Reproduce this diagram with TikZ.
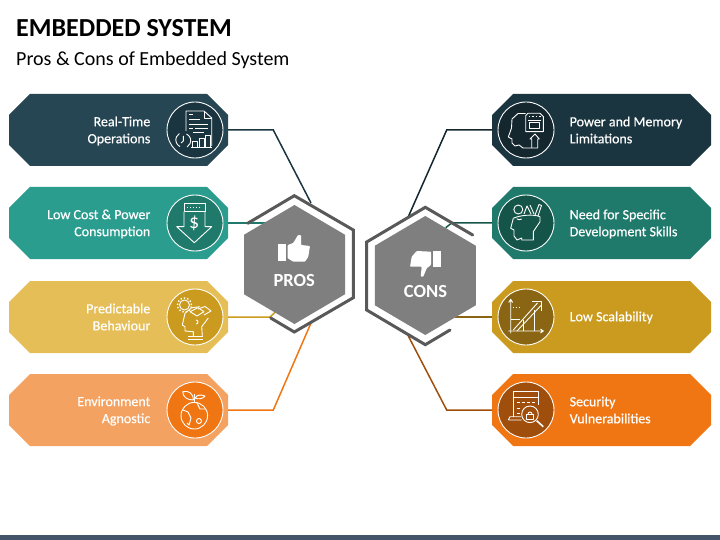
\documentclass[tikz,border=0pt]{standalone}
\usepackage{fontspec}
\setmainfont{Carlito}
\usetikzlibrary{shapes.geometric}
\definecolor{c1}{HTML}{264653}\definecolor{c1d}{HTML}{1B3540}
\definecolor{c2}{HTML}{2A9D8F}\definecolor{c2d}{HTML}{1F7A6B}
\definecolor{c3}{HTML}{E6BE57}\definecolor{c3d}{HTML}{CB9B1F}
\definecolor{c4}{HTML}{F4A261}\definecolor{c4d}{HTML}{F07613}
\definecolor{d1}{HTML}{1B3540}\definecolor{d1d}{HTML}{14262E}
\definecolor{d2}{HTML}{1F7A6B}\definecolor{d2d}{HTML}{155448}
\definecolor{d3}{HTML}{CB9B1F}\definecolor{d3d}{HTML}{8A6614}
\definecolor{d4}{HTML}{F07613}\definecolor{d4d}{HTML}{A04E0B}
\definecolor{hexfill}{HTML}{7F7F7F}\definecolor{hexline}{HTML}{595959}
\definecolor{barc}{HTML}{44546A}
\tikzset{
 x=1pt,y=-1pt,
 cardbox/.style={rectangle,minimum width=219pt,minimum height=72pt,inner sep=0pt,outer sep=0pt,draw=none},
 cardtxt/.style={text=white,inner sep=0pt,font=\fontsize{14}{17}\selectfont\addfontfeature{FakeBold=0.5}},
 iconc/.style={circle,minimum size=56pt,inner sep=0pt,draw=white,line width=0.9pt},
 link/.style={line width=1.5pt},
 hexa/.style={regular polygon,regular polygon sides=6,shape border rotate=30,minimum size=119pt,inner sep=0pt,fill=hexfill,draw=none,xscale=0.98,transform shape},
 ring/.style={draw=hexline,line width=3pt,line cap=round,line join=miter,fill=none},
 ico/.style={draw=white,line width=0.9pt,fill=none,line join=round},
}
\newcommand{\cardshape}[3]{%
 \node[cardbox] (#1) at #2 {};
 \fill[#3] ([xshift=21pt]#1.north west) -- ([xshift=-21pt]#1.north east) -- ([yshift=-21pt]#1.north east) -- ([yshift=21pt]#1.south east) -- ([xshift=-21pt]#1.south east) -- ([xshift=21pt]#1.south west) -- ([yshift=21pt]#1.south west) -- ([yshift=-21pt]#1.north west) -- cycle;}
\begin{document}
\begin{tikzpicture}
\useasboundingbox (0,0) rectangle (720,540);
\fill[barc] (0,535) rectangle (720,540);
\node[anchor=west,font=\fontsize{26}{30}\selectfont\bfseries,text=black,inner sep=0pt] (title) at (16,28.5) {EMBEDDED SYSTEM};
\node[anchor=west,font=\fontsize{20}{22}\selectfont,text=black,inner sep=0pt] (sub) at (16,60) {Pros \& Cons of Embedded System};

\cardshape{p1}{(118.5,130)}{c1}
\cardshape{p2}{(118.5,223)}{c2}
\cardshape{p3}{(118.5,317)}{c3}
\cardshape{p4}{(118.5,410)}{c4}
\cardshape{n1}{(601.5,130)}{d1}
\cardshape{n2}{(601.5,223)}{d2}
\cardshape{n3}{(601.5,317)}{d3}
\cardshape{n4}{(601.5,410)}{d4}

\coordinate (pe1) at (311,203);
\coordinate (pb1) at (273.3,130);
\coordinate (pe2) at (266,223);
\coordinate (pb3) at (270,317);
\coordinate (pe3) at (275.7,311.7);
\coordinate (pb4) at (273.3,410);
\coordinate (pe4) at (311,323);
\coordinate (nb1) at (446.7,130);
\coordinate (ne1) at (408.3,216.7);
\coordinate (nb2) at (451.7,223);
\coordinate (ne2) at (445.7,227.7);
\coordinate (ne3) at (455,317);
\coordinate (nb4) at (446.7,410);
\coordinate (ne4) at (408.3,336);
\draw[link,c1d] (p1.east) -- (pb1) -- (pe1);
\draw[link,c2d] (p2.east) -- (pe2);
\draw[link,c3d] (p3.east) -- (pb3) -- (pe3);
\draw[link,c4d] (p4.east) -- (pb4) -- (pe4);
\draw[link,d1d] (n1.west) -- (nb1) -- (ne1);
\draw[link,d2d] (n2.west) -- (nb2) -- (ne2);
\draw[link,d3d] (n3.west) -- (ne3);
\draw[link,d4d] (n4.west) -- (nb4) -- (ne4);

\node[hexa] (pros) at (294.5,264.5) {};
\node[hexa] (cons) at (425.3,275.5) {};
\draw[ring] (247.7,223.3) -- (294.3,195.7) -- (353.3,230) -- (353.3,297.7) -- (294.3,332) -- (270.7,318);
\draw[ring] (472.7,235) -- (425.3,207.3) -- (366.7,242) -- (366.7,310) -- (425.3,344.7) -- (450,330);
\node[text=white,font=\fontsize{18.5}{20}\selectfont\bfseries,inner sep=0pt] (prost) at (294.3,280) {PROS};
\node[text=white,font=\fontsize{18.5}{20}\selectfont\bfseries,inner sep=0pt] (const) at (425.5,291) {CONS};
% thumbs
\fill[white] (277.7,244) rectangle (286,260.7);
\fill[white,rounded corners=0.8pt] (287.7,245) -- (293.3,243) -- (298,235) -- (301,235) -- (301,245) -- (310,246) -- (308.3,256.7) -- (305,261.7) -- (293.3,261.7) -- (287.7,258.3) -- cycle;
\fill[white] (433.3,251) rectangle (441,267.3);
\fill[white,rounded corners=0.8pt] (431,251.7) -- (416.7,251) -- (411.7,256.7) -- (410,266.7) -- (421.7,266.7) -- (420.7,276.7) -- (423.3,276.7) -- (426.7,268.3) -- (431,265) -- cycle;

\node[iconc,fill=c1d] (ip1) at (195,130) {};
\node[iconc,fill=c2d] (ip2) at (195,223) {};
\node[iconc,fill=c3d] (ip3) at (195,317) {};
\node[iconc,fill=c4d] (ip4) at (195,410) {};
\node[iconc,fill=d1d] (in1) at (526,130) {};
\node[iconc,fill=d2d] (in2) at (526,223) {};
\node[iconc,fill=d3d] (in3) at (526,317) {};
\node[iconc,fill=d4d] (in4) at (526,410) {};

\node[cardtxt,align=right,anchor=east] (tp1) at (150.5,131) {Real-Time\\Operations};
\node[cardtxt,align=right,anchor=east] (tp2) at (150.5,224) {Low Cost \& Power\\Consumption};
\node[cardtxt,align=right,anchor=east] (tp3) at (150.5,317) {Predictable\\Behaviour};
\node[cardtxt,align=right,anchor=east] (tp4) at (150.5,411) {Environment\\Agnostic};
\node[cardtxt,align=left,anchor=west] (tn1) at (569.5,130) {Power and Memory\\Limitations};
\node[cardtxt,align=left,anchor=west] (tn2) at (569.5,224) {Need for Specific\\Development Skills};
\node[cardtxt,align=left,anchor=west] (tn3) at (569.5,317.5) {Low Scalability};
\node[cardtxt,align=left,anchor=west] (tn4) at (569.5,410) {Security\\Vulnerabilities};

% p1
\draw[ico] (186,131) -- (186,111) -- (204,111) -- (211.7,118) -- (211.7,146);
\draw[ico] (204,111) -- (204,118) -- (211.7,118);
\draw[ico] (189,114.5) -- (193,114.5) (189,119) -- (200,119) (189,124) -- (208,124) (195,128) -- (208,128) (189,128) -- (193,128) (193,132) -- (204,132);
\draw[ico] (186.5,134) arc[start angle=65,end angle=-60,radius=7.3pt];
\draw[ico] (180,146.5) arc[start angle=245,end angle=120,radius=7.3pt];
\draw[ico] (183.3,136) -- (183.3,141) -- (181,143);
\draw[ico] (191,147.3) -- (212,147.3);
\draw[ico] (192.3,141) rectangle (197.7,147.3) (199,138.3) rectangle (204,147.3) (205.5,135) rectangle (210.7,147.3);
% p2
\draw[ico] (184,203.3) rectangle (205,211.7);
\draw[ico] (184,211.7) -- (184,226.7) -- (176.7,226.7) -- (194.3,242.7) -- (211.7,226.7) -- (205,226.7) -- (205,211.7);
\draw[white,line width=1pt,dotted] (187,207.5) -- (202,207.5);
\node[text=white,font=\fontsize{20}{20}\selectfont,inner sep=0pt] (dollar) at (194.3,223.5) {\$};
% p3
\draw[ico] (200,306.7) -- (191.7,307.7) -- (185,313.3) -- (182.3,325) -- (185,326.7) -- (185,331) -- (193.3,331.7) -- (193.3,336) (202.3,336) -- (201.7,326.7) -- (208.3,318);
\draw[ico] (188,336.5) -- (203,336.5) (188,339) -- (203,339);
\draw[ico] (184.5,305) circle[radius=5pt];
\draw[white,line width=1.4pt,dotted] (184.5,305) circle[radius=7pt];
\draw[ico] (190,311.7) -- (198,307.7) -- (204,311.7) -- (197,316) -- cycle;
\draw[ico] (198,309) -- (205,306.5) -- (211,311) -- (204,315);
\draw[ico] (196,320) arc[start angle=90,end angle=-90,radius=2pt];
% p4
\draw[ico] (194.3,415.7) circle[radius=13.3pt];
\draw[ico] (194.3,402.4) -- (194.3,394);
\draw[ico] (193.5,400) .. controls (187,400) and (183,397) .. (182.7,391.7) .. controls (189,390) and (193.5,394) .. (193.5,400);
\draw[ico] (195,398) .. controls (197,394.5) and (201,394.5) .. (205,396) .. controls (203,399) and (198,399.5) .. (195,398);
\draw[ico] (183,410) -- (188,412) -- (191,418) -- (189,425) -- (187,423) (197,403) -- (200,409) -- (206,409) (199,421) circle[radius=2.5pt];
% n1
\draw[ico] (525.7,113.5) -- (518,113.5) -- (512,119) -- (511.5,128) -- (508.3,137) -- (512,139) -- (512,143) -- (515,146) -- (519,145) -- (523,148) -- (531.7,148);
\draw[ico] (528,113.3) -- (540,113.3) -- (543.3,116.5) -- (543.3,131.7) -- (525.7,131.7) -- (525.7,115.5) -- cycle;
\draw[white,line width=1.4pt,dotted] (529,116.5) -- (541,116.5);
\draw[ico] (528,120) -- (541,120) (529.3,122.3) rectangle (539.5,128.3);
\draw[ico] (531.7,148) -- (531.7,139) -- (530,139) -- (535,134) -- (539.3,139) -- (537.7,139) -- (537.7,148) -- cycle;
% n2
\draw[ico] (513.3,218.3) -- (510.7,228.3) -- (514,230) -- (514,236) -- (517,240) -- (521.7,238) -- (521.7,240) -- (533.3,240) -- (533.3,231.7) -- (540,221.7) -- (540,216.7);
\draw[ico] (513.3,218.3) .. controls (520,215) and (534,214) .. (540,216.7);
\draw[ico] (518.3,209.5) circle[radius=4.5pt];
\draw[ico] (524,214) -- (527,206) -- (531,214) (530,205) -- (534,214);
\draw[ico] (535,215) -- (539,204.5) -- (541.5,205.5) -- (538,216);
\draw[ico] (516.7,218.8) .. controls (518,220) and (520.5,220) .. (521.7,219);
% n3
\draw[ico] (510.7,333.3) -- (510.7,299.3) (508.7,302.5) -- (510.7,299.3) -- (512.7,302.5);
\draw[ico] (508.3,331) -- (543.3,331) (540.5,329) -- (543.3,331) -- (540.5,333);
\draw[ico] (510.7,319.3) -- (520,319.3) (523.3,320) -- (523.3,331) (534.3,310) -- (534.3,331);
\draw[ico] (513.3,330) -- (537.5,303) (517,331) -- (541,305.5);
\draw[ico] (532,301.7) -- (541.7,301.7) -- (541.7,311);
\draw[white,line width=1pt,dotted] (513,307.3) -- (522,307.3);
% n4
\draw[ico] (513.3,416.7) -- (513.3,391.7) -- (538.3,391.7) -- (538.3,405);
\draw[ico] (508.3,420) -- (521.7,420) (508.3,420) -- (510,416.7) -- (521,416.7);
\draw[ico] (513.3,397.7) -- (538.3,397.7);
\draw[white,line width=1pt,densely dashed] (516.5,402.7) -- (536,402.7) (516.5,408) -- (520,408) (516.5,413) -- (520,413);
\draw[ico] (530,414.3) circle[radius=8.3pt];
\draw[ico] (526.5,414) rectangle (533.5,419);
\draw[ico] (528,414) arc[start angle=180,end angle=0,radius=2pt];
\draw[ico,line width=1.6pt] (536.7,420.7) -- (543.3,426.7);
\end{tikzpicture}
\end{document}
